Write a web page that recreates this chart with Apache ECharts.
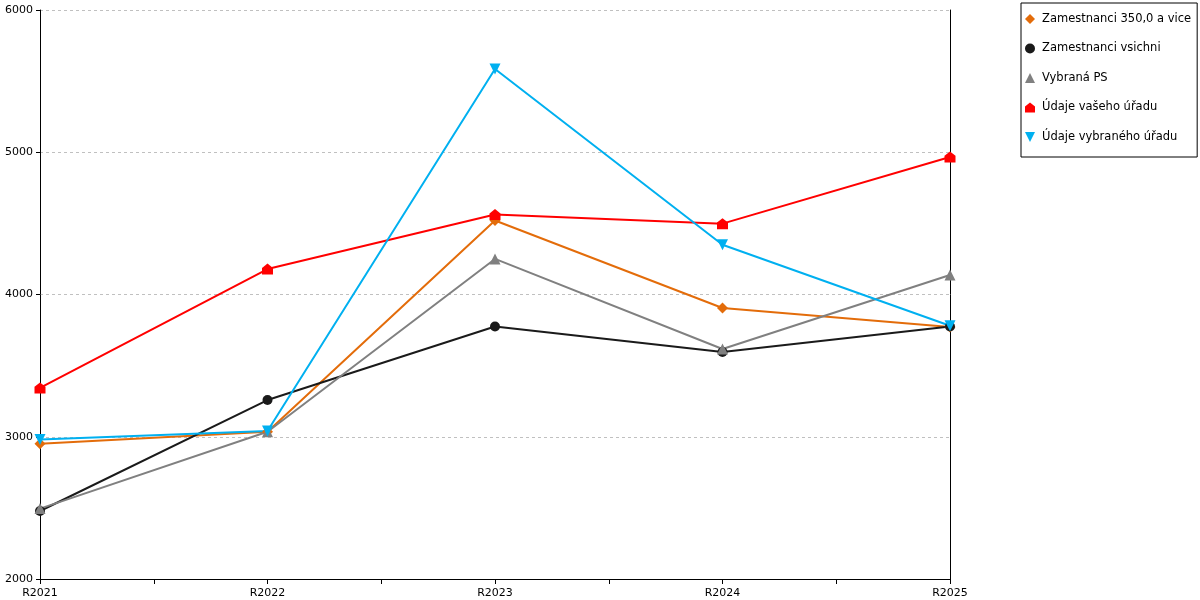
<!DOCTYPE html>
<html>
<head>
<meta charset="utf-8">
<script src="https://cdn.jsdelivr.net/npm/echarts@6/dist/echarts.min.js"></script>
<style>
  html, body { margin: 0; padding: 0; background: #fff; }
  #chart { width: 1200px; height: 600px; }
</style>
</head>
<body>
<div id="chart"></div>
<script>
// data
const categories = ['R2021', 'R2022', 'R2023', 'R2024', 'R2025'];
const seriesNames = [
  'Zamestnanci 350,0 a vice',
  'Zamestnanci vsichni',
  'Vybraná PS',
  'Údaje vašeho úřadu',
  'Údaje vybraného úřadu'
];
const zam350 = [2950, 3035, 4520, 3905, 3772];
const zamVsichni = [2478, 3258, 3775, 3596, 3775];
const vybranaPS = [2495, 3035, 4250, 3617, 4137];
const vasUrad = [3343, 4179, 4562, 4498, 4967];
const vybranyUrad = [2980, 3040, 5585, 4350, 3780];
const yTicks = [2000, 3000, 4000, 5000, 6000];

const colors = ['#e36c0a', '#1a1a1a', '#808080', '#ff0000', '#00b0f0'];
const symbols = [
  'diamond',
  'circle',
  'triangle',
  'path://M0,4 L5,0 L10,4 L10,10 L0,10 Z',
  'path://M0,0 L10,0 L5,10 Z'
];
const values = [zam350, zamVsichni, vybranaPS, vasUrad, vybranyUrad];
const fontFamily = 'DejaVu Sans';

const chart = echarts.init(document.getElementById('chart'));

// 图表配置
const option = {
  animation: false,
  textStyle: { fontFamily: fontFamily },
  grid: {
    left: 40,
    right: 250,
    top: 10,
    bottom: 21
  },
  legend: {
    orient: 'vertical',
    left: 1021,
    top: 3,
    padding: [10, 6, 14, 4],
    itemGap: 17.5,
    itemWidth: 10,
    itemHeight: 10,
    borderColor: '#000',
    borderWidth: 1,
    borderRadius: 0,
    textStyle: { fontSize: 11.5, color: '#000', fontFamily: fontFamily, padding: [0, 0, 0, 2] },
    data: seriesNames.map((name, i) => ({ name: name, icon: symbols[i] }))
  },
  xAxis: {
    type: 'value',
    min: 0,
    max: categories.length - 1,
    interval: 0.5,
    axisLine: { lineStyle: { color: '#000', width: 1 } },
    axisTick: { show: true, length: 5, lineStyle: { color: '#000' } },
    splitLine: { show: false },
    axisLabel: {
      color: '#000',
      fontSize: 11,
      margin: 9,
      formatter: v => (Number.isInteger(v) ? categories[v] : '')
    }
  },
  yAxis: [
    {
      type: 'value',
      min: yTicks[0],
      max: yTicks[yTicks.length - 1],
      interval: 1000,
      axisLine: { show: true, lineStyle: { color: '#000' } },
      axisTick: { show: true, length: 4, lineStyle: { color: '#000' } },
      axisLabel: { color: '#000', fontSize: 11, margin: 7, formatter: v => String(v) },
      splitLine: { lineStyle: { color: '#c0c0c0', type: [3, 3] } }
    },
    {
      type: 'value',
      position: 'right',
      min: yTicks[0],
      max: yTicks[yTicks.length - 1],
      axisLine: { show: true, lineStyle: { color: '#000' } },
      axisTick: { show: false },
      axisLabel: { show: false },
      splitLine: { show: false }
    }
  ],
  series: seriesNames.map((name, i) => ({
    name: name,
    type: 'line',
    data: values[i].map((v, idx) => [idx, v]),
    symbol: symbols[i],
    symbolSize: i === 1 ? 10 : 11,
    showAllSymbol: true,
    itemStyle: { color: colors[i] },
    lineStyle: { width: 2, color: colors[i] }
  }))
};

chart.setOption(option);
</script>
</body>
</html>
